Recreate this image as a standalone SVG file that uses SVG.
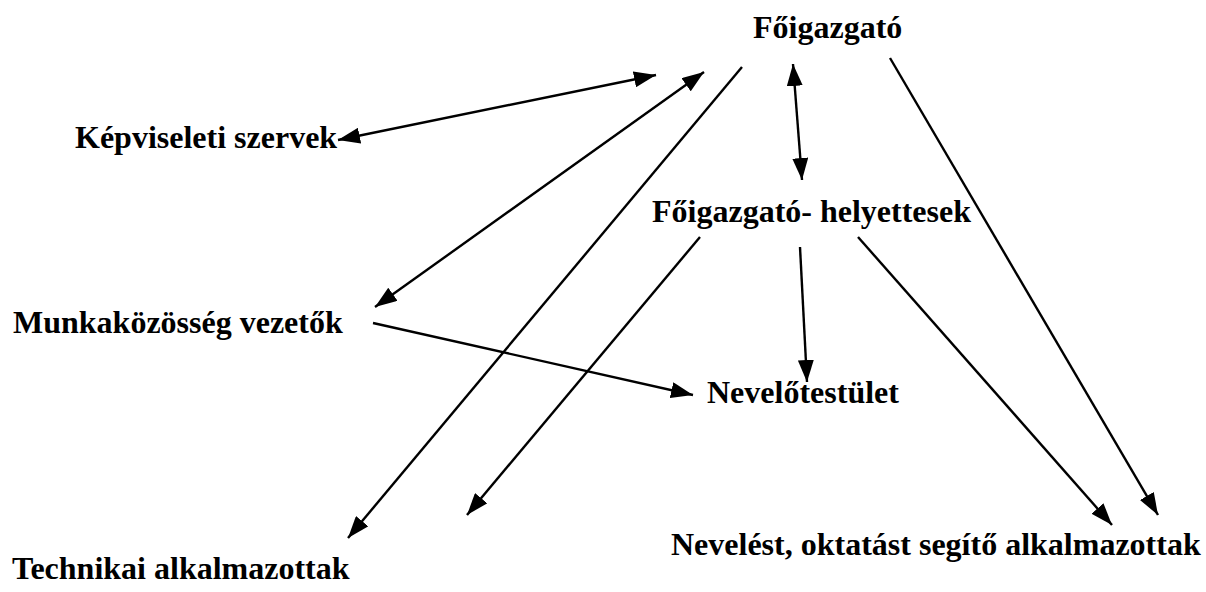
<svg xmlns="http://www.w3.org/2000/svg" width="1206" height="592" viewBox="0 0 1206 592">
<style>
.t{font-family:"Liberation Serif","Times New Roman",serif;font-weight:bold;font-size:32px;fill:#000}
.c line{stroke:#000;stroke-width:2.4;fill:none}
</style>
<defs>
<marker id="ah" viewBox="0 0 22 16" refX="22" refY="8" markerWidth="22" markerHeight="16" markerUnits="userSpaceOnUse" orient="auto-start-reverse">
<path d="M0,0 L22,8 L0,16 Z" fill="#000"/>
</marker>
</defs>
<rect width="1206" height="592" fill="#fff"/>
<g class="c" id="connectors">
<line x1="338" y1="140" x2="656" y2="75" marker-start="url(#ah)" marker-end="url(#ah)"/>
<line x1="375" y1="307" x2="704" y2="72" marker-start="url(#ah)" marker-end="url(#ah)"/>
<line x1="742" y1="67" x2="348" y2="538" marker-end="url(#ah)"/>
<line x1="793" y1="64" x2="802" y2="180" marker-start="url(#ah)" marker-end="url(#ah)"/>
<line x1="890" y1="58" x2="1158" y2="515" marker-end="url(#ah)"/>
<line x1="800" y1="247" x2="807" y2="382" marker-end="url(#ah)"/>
<line x1="373" y1="323" x2="693" y2="395" marker-end="url(#ah)"/>
<line x1="700" y1="237" x2="467" y2="515" marker-end="url(#ah)"/>
<line x1="858" y1="237" x2="1112" y2="525" marker-end="url(#ah)"/>
</g>
<g id="foigazgato"><text class="t" x="753" y="38">Főigazgató</text></g>
<g id="kepviseleti"><text class="t" x="75" y="148">Képviseleti szervek</text></g>
<g id="munkakozosseg"><text class="t" x="13" y="333">Munkaközösség vezetők</text></g>
<g id="helyettesek"><text class="t" x="652" y="222">Főigazgató- helyettesek</text></g>
<g id="nevelotestulet"><text class="t" x="707" y="403">Nevelőtestület</text></g>
<g id="nevelest"><text class="t" x="671" y="555">Nevelést, oktatást segítő alkalmazottak</text></g>
<g id="technikai"><text class="t" x="12" y="579">Technikai alkalmazottak</text></g>
</svg>
